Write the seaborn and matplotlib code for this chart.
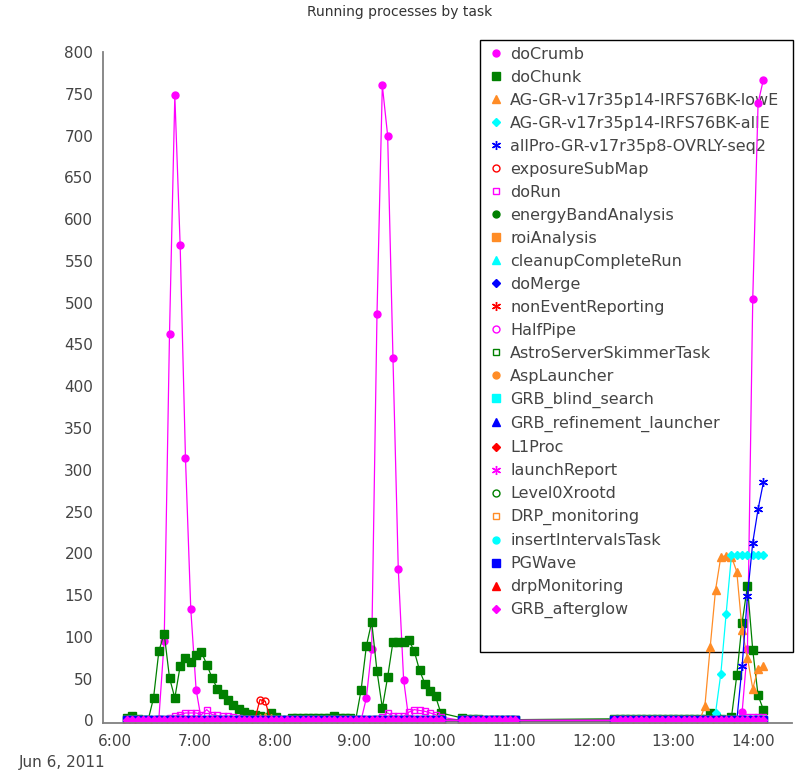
import numpy as np
import pandas as pd
import matplotlib
matplotlib.use("Agg")
import matplotlib.pyplot as plt
import matplotlib.dates as mdates
from matplotlib.lines import Line2D
from matplotlib.patches import Rectangle
from matplotlib.ticker import FuncFormatter
import seaborn as sns

# polling times: 4 minute samples, with two holes in the record
seg_a = pd.date_range("2011-06-06 06:09", "2011-06-06 10:05", freq="4min")   # 60
seg_b = pd.date_range("2011-06-06 10:21", "2011-06-06 11:01", freq="4min")   # 11
seg_c = pd.date_range("2011-06-06 12:15:30", "2011-06-06 14:07:30", freq="4min")  # 29
times = seg_a.append(seg_b).append(seg_c)

tasks = ["doCrumb", "doChunk", "AG-GR-v17r35p14-IRFS76BK-lowE",
         "AG-GR-v17r35p14-IRFS76BK-allE", "allPro-GR-v17r35p8-OVRLY-seq2",
         "exposureSubMap", "doRun", "energyBandAnalysis", "roiAnalysis",
         "cleanupCompleteRun", "doMerge", "nonEventReporting", "HalfPipe",
         "AstroServerSkimmerTask", "AspLauncher", "GRB_blind_search",
         "GRB_refinement_launcher", "L1Proc", "launchReport", "Level0Xrootd",
         "DRP_monitoring", "insertIntervalsTask", "PGWave", "drpMonitoring",
         "GRB_afterglow"]

doCrumb = ([0, 0, 0, 0, 0, 0, 2, 95, 463, 748,
            569, 314, 133, 37, 0, 0, 0, 0, 0, 0,
            0, 0, 0, 0, 0, 0, 0, 0, 0, 0,
            0, 0, 0, 0, 0, 0, 0, 0, 0, 0,
            0, 0, 0, 0, 0, 27, 86, 487, 760, 700,
            434, 181, 49, 0, 0, 0, 0, 0, 0, 0]
           + [0, 0, 0, 0, 0, 0, 0, 0, 0, 0, 0]
           + [0, 0, 0, 0, 0, 0, 0, 0, 0, 0,
              0, 0, 0, 0, 0, 0, 0, 0, 0, 0,
              0, 0, 0, 0, 10, 86, 505, 739, 767])

doChunk = ([3, 5, 2, 1, 1, 27, 83, 104, 51, 27,
            65, 75, 70, 78, 82, 67, 51, 38, 32, 25,
            18, 14, 10, 8, 6, 5, 4, 9, 4, 1,
            1, 3, 3, 3, 3, 3, 3, 3, 3, 5,
            3, 3, 3, 1, 36, 89, 118, 59, 15, 52,
            94, 94, 94, 96, 83, 60, 44, 35, 29, 9]
           + [3, 2, 2, 2, 1, 1, 1, 1, 1, 1, 1]
           + [2, 2, 2, 2, 2, 2, 2, 2, 2, 2,
              2, 2, 2, 2, 2, 2, 2, 2, 9, 3,
              2, 1, 4, 54, 117, 161, 84, 30, 13])

ag_lowE = ([0, 0, 0, 0, 0, 0, 0, 0, 0, 0,
            0, 0, 0, 0, 0, 0, 0, 0, 0, 0,
            0, 0, 0, 0, 2, 3, 4, 3, 0, 0,
            0, 0, 0, 0, 0, 0, 0, 0, 0, 0,
            0, 0, 0, 0, 0, 0, 0, 0, 0, 0,
            0, 0, 0, 0, 0, 0, 0, 0, 0, 0]
           + [0, 0, 0, 0, 0, 0, 0, 0, 0, 0, 0]
           + [0, 0, 0, 0, 0, 0, 0, 0, 0, 0,
              0, 0, 0, 0, 0, 0, 0, 17, 88, 156,
              196, 197, 196, 178, 108, 75, 38, 62, 65])

ag_allE = ([0] * 60 + [0] * 11
           + [0, 0, 0, 0, 0, 0, 0, 0, 0, 0,
              0, 0, 0, 0, 0, 0, 0, 0, 0, 9,
              56, 128, 198, 198, 198, 198, 198, 198, 198])

allPro = ([0] * 60 + [0] * 11
          + [0, 0, 0, 0, 0, 0, 0, 0, 0, 0,
             0, 0, 0, 0, 0, 0, 0, 0, 0, 0,
             0, 0, 0, 0, 65, 149, 213, 253, 285])

exposureSubMap = ([0, 0, 0, 0, 0, 0, 0, 0, 0, 0,
                   0, 0, 0, 0, 0, 0, 0, 0, 0, 0,
                   0, 0, 0, 0, 0, 25, 23, 0, 0, 0,
                   0, 0, 0, 0, 0, 0, 0, 0, 0, 0,
                   0, 0, 0, 0, 0, 0, 0, 0, 0, 0,
                   0, 0, 0, 0, 0, 0, 0, 0, 0, 0]
                  + [0] * 11 + [0] * 29)

doRun = ([0, 0, 0, 0, 0, 0, 0, 1, 3, 5,
          7, 9, 9, 9, 7, 13, 7, 6, 5, 5,
          4, 3, 2, 2, 1, 1, 1, 1, 1, 1,
          0, 0, 0, 0, 0, 0, 0, 0, 0, 0,
          0, 0, 0, 0, 0, 0, 1, 2, 4, 9,
          5, 5, 5, 10, 13, 12, 11, 9, 7, 4]
         + [0] * 11
         + [0, 0, 0, 0, 0, 0, 0, 0, 0, 0,
            0, 0, 0, 0, 0, 0, 0, 0, 0, 0,
            0, 0, 0, 0, 0, 4, 4, 4, 4])

# every other task sat at zero for the whole window
idle = [0] * len(times)

values = {name: idle for name in tasks}
values.update({"doCrumb": doCrumb, "doChunk": doChunk,
               "AG-GR-v17r35p14-IRFS76BK-lowE": ag_lowE,
               "AG-GR-v17r35p14-IRFS76BK-allE": ag_allE,
               "allPro-GR-v17r35p8-OVRLY-seq2": allPro,
               "exposureSubMap": exposureSubMap, "doRun": doRun})

palette = ["#FF00FF", "#008000", "#FF8C26", "#00FFFF", "#0000FF", "#FF0000"]
# (marker, size, filled)
shapes = [("o", 5.0, True), ("s", 5.2, True), ("^", 5.5, True),
          ("D", 3.8, True), ((6, 2, 0), 6.5, False), ("o", 5.0, False),
          ("s", 5.0, False)]


def style(i):
    m, ms, filled = shapes[i % 7]
    c = palette[i % 6]
    return dict(marker=m, markersize=ms, markeredgecolor=c,
                markerfacecolor=c if filled else "none",
                markeredgewidth=1.0, color=c)


sns.set_theme(style="white")
plt.rcParams["font.family"] = ["DejaVu Sans"]

fig = plt.figure(figsize=(8, 7.71), dpi=100)
ax = fig.add_axes([103 / 800, 1 - 723 / 771, (792 - 103) / 800, (723 - 52) / 771])

handles = []
for i, name in enumerate(tasks):
    st = style(i)
    sns.lineplot(x=times, y=values[name], ax=ax, lw=0.9, zorder=2 + i * 0.01,
                 **st)
    handles.append(Line2D([], [], linestyle="none", **{k: v for k, v in st.items()
                                                         if k != "color"}))

ax.set_ylim(-3, 800)
ax.set_xlim(pd.Timestamp("2011-06-06 05:51"), pd.Timestamp("2011-06-06 14:29"))
ax.set_yticks(np.arange(0, 801, 50))
ax.xaxis.set_major_locator(mdates.HourLocator())
ax.xaxis.set_major_formatter(FuncFormatter(
    lambda v, p: "%d:%02d" % (mdates.num2date(v).hour, mdates.num2date(v).minute)))
ax.set_xlabel("")
ax.set_ylabel("")

for s in ["top", "right"]:
    ax.spines[s].set_visible(False)
for s in ["left", "bottom"]:
    ax.spines[s].set_color("#808080")
    ax.spines[s].set_linewidth(1.3)
ax.tick_params(axis="both", direction="inout", length=8, width=1.0,
               color="#808080", labelsize=11, labelcolor="#444444", pad=3)
ax.tick_params(axis="x", pad=4)

fig.text(0.5, 1 - 12 / 771, "Running processes by task", ha="center", va="center",
         fontsize=10, color="#333333")
fig.text(62 / 800, 1 - 762 / 771, "Jun 6, 2011", ha="center", va="center",
         fontsize=11, color="#444444")

# legend box (taller than the entries, like the original)
box = Rectangle((480 / 800, 1 - 652 / 771), 313 / 800, 612 / 771,
                transform=fig.transFigure, facecolor="white", edgecolor="black",
                linewidth=1.0, zorder=1, clip_on=False)
ax.add_patch(box)

leg = ax.legend(handles, tasks, loc="upper left",
                bbox_to_anchor=(480 / 800, 1 - 39 / 771),
                bbox_transform=fig.transFigure, fontsize=11.5, frameon=False,
                handlelength=1.0, handletextpad=0.4, labelspacing=0.5,
                borderpad=0.5, borderaxespad=0)
leg.set_zorder(1.5)
for t in leg.get_texts():
    t.set_color("#444444")

fig.savefig("out.png", dpi=100)
